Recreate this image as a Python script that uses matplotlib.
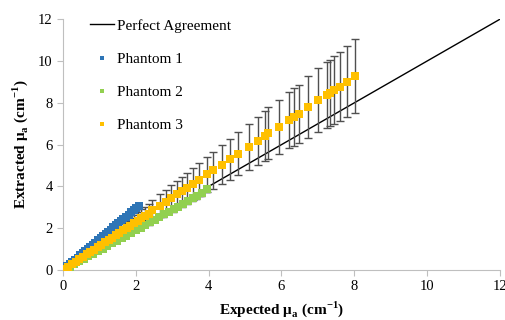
import matplotlib.pyplot as plt
from matplotlib.lines import Line2D

plt.rcParams['font.family'] = ['Liberation Serif', 'DejaVu Serif']

# perfect agreement line
line_x = [0, 12]
line_y = [0, 12]

# Phantom 1 (blue)
p1_exp = [0.05, 0.12, 0.19, 0.26, 0.33, 0.40, 0.47, 0.54, 0.61, 0.68, 0.75, 0.82, 0.89, 0.96, 1.03,
          1.10, 1.17, 1.24, 1.31, 1.38, 1.45, 1.52, 1.59, 1.66, 1.73, 1.80, 1.87, 1.94, 2.01, 2.08]
p1_ext = [0.08, 0.18, 0.28, 0.39, 0.49, 0.59, 0.70, 0.80, 0.90, 1.01, 1.11, 1.21, 1.31, 1.42, 1.52,
          1.62, 1.73, 1.83, 1.93, 2.04, 2.14, 2.24, 2.35, 2.45, 2.55, 2.65, 2.76, 2.86, 2.96, 3.07]
p1_err = [0.01, 0.01, 0.02, 0.02, 0.03, 0.03, 0.04, 0.04, 0.05, 0.05, 0.06, 0.06, 0.07, 0.07, 0.08,
          0.08, 0.09, 0.09, 0.10, 0.10, 0.11, 0.11, 0.12, 0.12, 0.13, 0.13, 0.14, 0.14, 0.15, 0.15]

# Phantom 2 (green)
p2_exp = [0.05, 0.18, 0.31, 0.44, 0.57, 0.70, 0.83, 0.96, 1.09, 1.22, 1.35, 1.48, 1.61, 1.74, 1.87, 2.00,
          2.13, 2.26, 2.39, 2.52, 2.65, 2.78, 2.91, 3.04, 3.17, 3.30, 3.43, 3.56, 3.69, 3.82, 3.95]
p2_ext = [0.05, 0.17, 0.29, 0.42, 0.54, 0.66, 0.79, 0.91, 1.03, 1.16, 1.28, 1.41, 1.53, 1.65, 1.78, 1.90,
          2.03, 2.15, 2.28, 2.40, 2.53, 2.66, 2.78, 2.91, 3.04, 3.17, 3.30, 3.43, 3.56, 3.70, 3.88]
p2_err = [0.01, 0.01, 0.02, 0.02, 0.03, 0.03, 0.04, 0.04, 0.05, 0.05, 0.06, 0.06, 0.07, 0.07, 0.08, 0.08,
          0.09, 0.09, 0.10, 0.10, 0.11, 0.11, 0.12, 0.12, 0.13, 0.13, 0.14, 0.14, 0.15, 0.15, 0.16]

# Phantom 3 (yellow)
p3_exp = [0.05, 0.15, 0.25, 0.35, 0.45, 0.55, 0.65, 0.75, 0.85, 0.95, 1.05, 1.15, 1.25, 1.35, 1.45,
          1.55, 1.65, 1.75, 1.85, 1.95, 2.05, 2.15, 2.25, 2.35, 2.45, 2.66, 2.82, 2.97, 3.13, 3.27,
          3.41, 3.57, 3.74, 3.96, 4.12, 4.37, 4.59, 4.81, 5.11, 5.36, 5.55, 5.63, 5.93, 6.21, 6.35,
          6.48, 6.73, 7.00, 7.25, 7.34, 7.45, 7.61, 7.80, 8.02]
p3_ext = [0.06, 0.17, 0.29, 0.40, 0.52, 0.63, 0.75, 0.86, 0.98, 1.09, 1.21, 1.32, 1.44, 1.55, 1.67,
          1.78, 1.90, 2.01, 2.13, 2.24, 2.36, 2.47, 2.59, 2.70, 2.85, 3.08, 3.26, 3.44, 3.62, 3.78,
          3.94, 4.13, 4.33, 4.58, 4.77, 5.05, 5.31, 5.56, 5.89, 6.17, 6.41, 6.55, 6.84, 7.18, 7.32,
          7.46, 7.80, 8.13, 8.37, 8.47, 8.61, 8.76, 9.00, 9.28]
p3_err = [0.01, 0.03, 0.05, 0.07, 0.09, 0.11, 0.13, 0.15, 0.17, 0.19, 0.21, 0.23, 0.25, 0.27, 0.29,
          0.31, 0.33, 0.35, 0.37, 0.39, 0.41, 0.43, 0.45, 0.47, 0.50, 0.55, 0.58, 0.62, 0.66, 0.69,
          0.72, 0.76, 0.80, 0.85, 0.88, 0.93, 0.98, 1.03, 1.10, 1.16, 1.20, 1.23, 1.28, 1.35, 1.38,
          1.40, 1.46, 1.52, 1.57, 1.59, 1.62, 1.65, 1.70, 1.77]

tick_vals = [0, 2, 4, 6, 8, 10, 12]

blue = '#2E75B6'
green = '#92D050'
yellow = '#FFC000'

fig = plt.figure(figsize=(5.06, 3.2), dpi=100)
ax = fig.add_axes([0.1245, 0.156, 0.8636, 0.784])

ax.plot(line_x, line_y, color='black', lw=1.0, zorder=2)

ax.errorbar(p1_exp, p1_ext, yerr=p1_err, fmt='none', ecolor='#303030', elinewidth=0.9, capsize=2.5, zorder=3)
ax.errorbar(p2_exp, p2_ext, yerr=p2_err, fmt='none', ecolor='#303030', elinewidth=0.9, capsize=2.5, zorder=3)
ax.errorbar(p3_exp, p3_ext, yerr=p3_err, fmt='none', ecolor='#505050', elinewidth=1.0, capsize=2.8, zorder=3)

ax.plot(p1_exp, p1_ext, 's', color=blue, ms=5.8, mew=0, zorder=4)
ax.plot(p2_exp, p2_ext, 's', color=green, ms=5.8, mew=0, zorder=4)
ax.plot(p3_exp, p3_ext, 's', color=yellow, ms=5.2, mew=0, zorder=5)

ax.set_xlim(0, 12)
ax.set_ylim(0, 12)
ax.set_xticks(tick_vals)
ax.set_yticks(tick_vals)
ax.tick_params(axis='both', labelsize=10.5, colors='#bfbfbf', labelcolor='black', length=4, width=0.8)
for side in ['top', 'right']:
    ax.spines[side].set_visible(False)
for side in ['left', 'bottom']:
    ax.spines[side].set_color('#bfbfbf')
    ax.spines[side].set_linewidth(0.8)

ax.set_xlabel('Expected μ$_\\mathregular{a}$ (cm$^\\mathregular{-1}$)', fontsize=11, fontweight='bold', labelpad=4)
ax.set_ylabel('Extracted μ$_\\mathregular{a}$ (cm$^\\mathregular{-1}$)', fontsize=11, fontweight='bold', labelpad=6)

handles = [
    Line2D([], [], color='black', lw=1.0),
    Line2D([], [], marker='s', ls='none', color=blue, ms=2.5, mew=0),
    Line2D([], [], marker='s', ls='none', color=green, ms=2.5, mew=0),
    Line2D([], [], marker='s', ls='none', color=yellow, ms=2.5, mew=0),
]
labels = ['Perfect Agreement', 'Phantom 1', 'Phantom 2', 'Phantom 3']
ax.legend(handles, labels, loc='upper left', bbox_to_anchor=(0.047, 1.025), frameon=False,
          fontsize=11, handlelength=1.6, handletextpad=0.2, labelspacing=1.27, borderaxespad=0)

fig.savefig('out.png', dpi=100)
